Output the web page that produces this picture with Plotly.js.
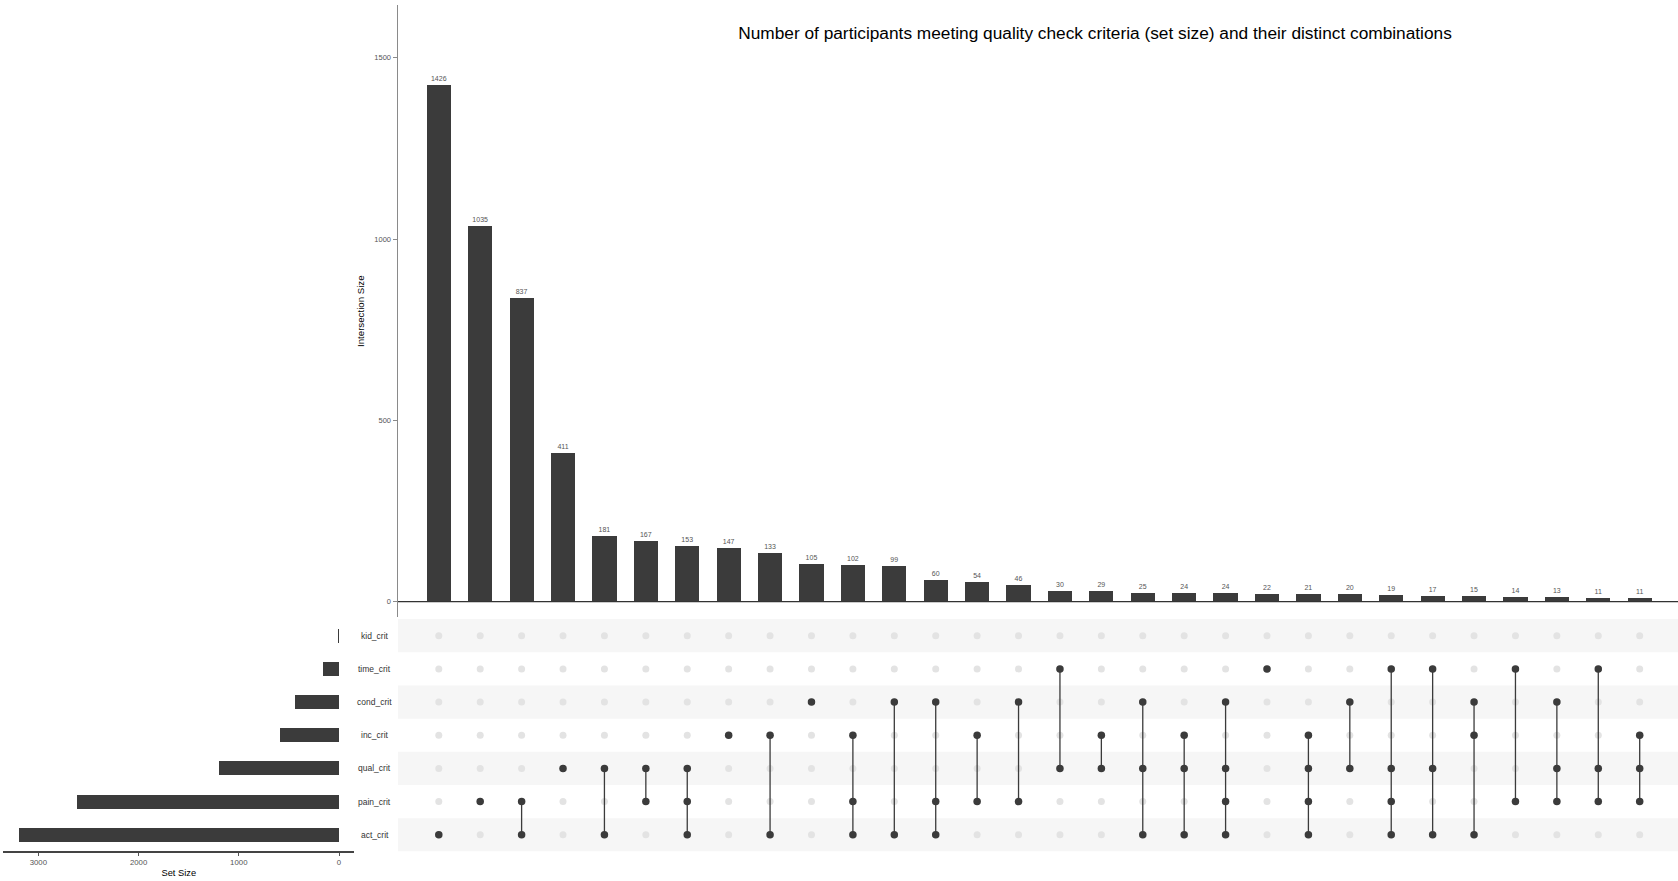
<!DOCTYPE html>
<html>
<head>
<meta charset="utf-8">
<script src="https://cdn.plot.ly/plotly-3.0.1.min.js"></script>
<style>html,body{margin:0;padding:0;background:#fff;}#chart{width:1678px;height:881px;}</style>
</head>
<body>
<div id="chart"></div>
<script>
// ---- Data ----
const setNames = ['act_crit', 'pain_crit', 'qual_crit', 'inc_crit', 'cond_crit', 'time_crit', 'kid_crit']; // bottom to top
const setSizes = [3193, 2611, 1194, 589, 439, 157, 15];

const intersectionSizes = [1426, 1035, 837, 411, 181, 167, 153, 147, 133, 105, 102, 99, 60, 54, 46,
                           30, 29, 25, 24, 24, 22, 21, 20, 19, 17, 15, 14, 13, 11, 11];

const intersectionSets = [
  ['act_crit'],
  ['pain_crit'],
  ['pain_crit', 'act_crit'],
  ['qual_crit'],
  ['qual_crit', 'act_crit'],
  ['qual_crit', 'pain_crit'],
  ['qual_crit', 'pain_crit', 'act_crit'],
  ['inc_crit'],
  ['inc_crit', 'act_crit'],
  ['cond_crit'],
  ['inc_crit', 'pain_crit', 'act_crit'],
  ['cond_crit', 'act_crit'],
  ['cond_crit', 'pain_crit', 'act_crit'],
  ['inc_crit', 'pain_crit'],
  ['cond_crit', 'pain_crit'],
  ['time_crit', 'qual_crit'],
  ['inc_crit', 'qual_crit'],
  ['cond_crit', 'qual_crit', 'act_crit'],
  ['inc_crit', 'qual_crit', 'act_crit'],
  ['cond_crit', 'qual_crit', 'pain_crit', 'act_crit'],
  ['time_crit'],
  ['inc_crit', 'qual_crit', 'pain_crit', 'act_crit'],
  ['cond_crit', 'qual_crit'],
  ['time_crit', 'qual_crit', 'pain_crit', 'act_crit'],
  ['time_crit', 'qual_crit', 'act_crit'],
  ['cond_crit', 'inc_crit', 'act_crit'],
  ['time_crit', 'pain_crit'],
  ['cond_crit', 'qual_crit', 'pain_crit'],
  ['time_crit', 'qual_crit', 'pain_crit'],
  ['inc_crit', 'qual_crit', 'pain_crit']
];

const mainTitle = 'Number of participants meeting quality check criteria (set size) and their distinct combinations';
const yTitle = 'Intersection Size';
const setAxisTitle = 'Set Size';
const mainTicks = [0, 500, 1000, 1500];
const setTicks = [0, 1000, 2000, 3000];

// ---- Build traces ----
const W = 1678, H = 881;
const FONT = 'Liberation Sans, Arial, sans-serif';
const DARK = '#3b3b3b';
const positions = intersectionSizes.map((_, i) => i + 1);
const rowIdx = setNames.map((_, i) => i);

const traces = [];

// main intersection bars
traces.push({
  type: 'bar', x: positions, y: intersectionSizes, xaxis: 'x', yaxis: 'y',
  width: 0.585, marker: {color: DARK, line: {width: 0}},
  text: intersectionSizes.map(String), textposition: 'outside', constraintext: 'none',
  textfont: {family: FONT, size: 7, color: '#555'}, cliponaxis: false,
  hoverinfo: 'x+y', showlegend: false
});

// background (inactive) dots
const bgX = [], bgY = [];
positions.forEach(p => rowIdx.forEach(r => { bgX.push(p); bgY.push(r); }));
traces.push({
  type: 'scatter', mode: 'markers', x: bgX, y: bgY, xaxis: 'x2', yaxis: 'y2',
  marker: {size: 7, color: '#e3e3e3'}, hoverinfo: 'skip', showlegend: false
});

// connector lines
const lx = [], ly = [];
intersectionSets.forEach((s, i) => {
  const rows = s.map(n => setNames.indexOf(n));
  if (rows.length > 1) {
    lx.push(positions[i], positions[i], null);
    ly.push(Math.min(...rows), Math.max(...rows), null);
  }
});
traces.push({
  type: 'scatter', mode: 'lines', x: lx, y: ly, xaxis: 'x2', yaxis: 'y2',
  line: {color: DARK, width: 1.3}, hoverinfo: 'skip', showlegend: false
});

// active dots
const ax = [], ay = [];
intersectionSets.forEach((s, i) => s.forEach(n => { ax.push(positions[i]); ay.push(setNames.indexOf(n)); }));
traces.push({
  type: 'scatter', mode: 'markers', x: ax, y: ay, xaxis: 'x2', yaxis: 'y2',
  marker: {size: 7.5, color: DARK}, hoverinfo: 'skip', showlegend: false
});

// set size bars
traces.push({
  type: 'bar', orientation: 'h', x: setSizes, y: rowIdx, xaxis: 'x3', yaxis: 'y3',
  width: 0.42, marker: {color: DARK, line: {width: 0}}, hoverinfo: 'x', showlegend: false
});

// ---- Layout ----
const xDom = [398 / W, 1];
const xRange = [0.015, 30.925];
const matDom = [1 - 851.4 / H, 1 - 619.1 / H];
const mainDom = [1 - 617 / H, 1 - 5.4 / H];
const rowRange = [-0.5, setNames.length - 0.5];

const shapes = [];
rowIdx.forEach(r => {
  if (r % 2 === 0) {
    shapes.push({type: 'rect', xref: 'x2 domain', yref: 'y2', x0: 0, x1: 1, y0: r - 0.5, y1: r + 0.5,
      fillcolor: '#f6f6f6', line: {width: 0}, layer: 'below'});
  }
});
shapes.push({type: 'line', xref: 'x domain', yref: 'y', x0: 0, x1: 1, y0: 0, y1: 0,
  line: {color: '#333', width: 1.2}, layer: 'above'});

const annotations = setNames.map((n, i) => ({
  xref: 'paper', yref: 'y2', x: 374.5 / W, y: i, text: n, showarrow: false,
  xanchor: 'center', yanchor: 'middle', font: {family: FONT, size: 8.5, color: '#333'}
}));

const layout = {
  width: W, height: H, margin: {l: 0, r: 0, t: 0, b: 0},
  paper_bgcolor: '#fff', plot_bgcolor: 'rgba(0,0,0,0)',
  font: {family: FONT, color: '#333'},
  showlegend: false, bargap: 0,
  title: {text: mainTitle, x: 1095 / W, xanchor: 'center', xref: 'paper',
          y: 1 - 33 / H, yanchor: 'middle', font: {family: FONT, size: 17.3, color: '#000'}},
  xaxis: {domain: xDom, range: xRange, anchor: 'y', showticklabels: false, ticks: '',
          showgrid: false, zeroline: false, showline: false, fixedrange: true},
  yaxis: {domain: mainDom, range: [-42.2, 1644.2], anchor: 'x', tickvals: mainTicks,
          ticks: 'outside', ticklen: 4, tickwidth: 1, tickcolor: '#8a8a8a',
          showline: true, linecolor: '#8a8a8a', linewidth: 1.5,
          showgrid: false, zeroline: false,
          tickfont: {family: FONT, size: 7.5, color: '#555'},
          title: {text: yTitle, standoff: 8, font: {family: FONT, size: 9.7, color: '#000'}}},
  xaxis2: {domain: xDom, range: xRange, anchor: 'y2', visible: false, fixedrange: true},
  yaxis2: {domain: matDom, range: rowRange, anchor: 'x2', visible: false, fixedrange: true},
  xaxis3: {domain: [3.3 / W, 354.3 / W], range: [3350, -152.7], anchor: 'y3',
           tickvals: setTicks, ticks: 'outside', ticklen: 3, tickcolor: '#555',
           showline: true, linecolor: '#444', linewidth: 1.2, showgrid: false, zeroline: false,
           tickfont: {family: FONT, size: 7.8, color: '#555'},
           title: {text: setAxisTitle, standoff: 3, font: {family: FONT, size: 9.3, color: '#000'}}},
  yaxis3: {domain: matDom, range: rowRange, anchor: 'x3', visible: false, fixedrange: true},
  shapes: shapes,
  annotations: annotations
};

Plotly.newPlot('chart', traces, layout, {displayModeBar: false, staticPlot: true});
</script>
</body>
</html>
